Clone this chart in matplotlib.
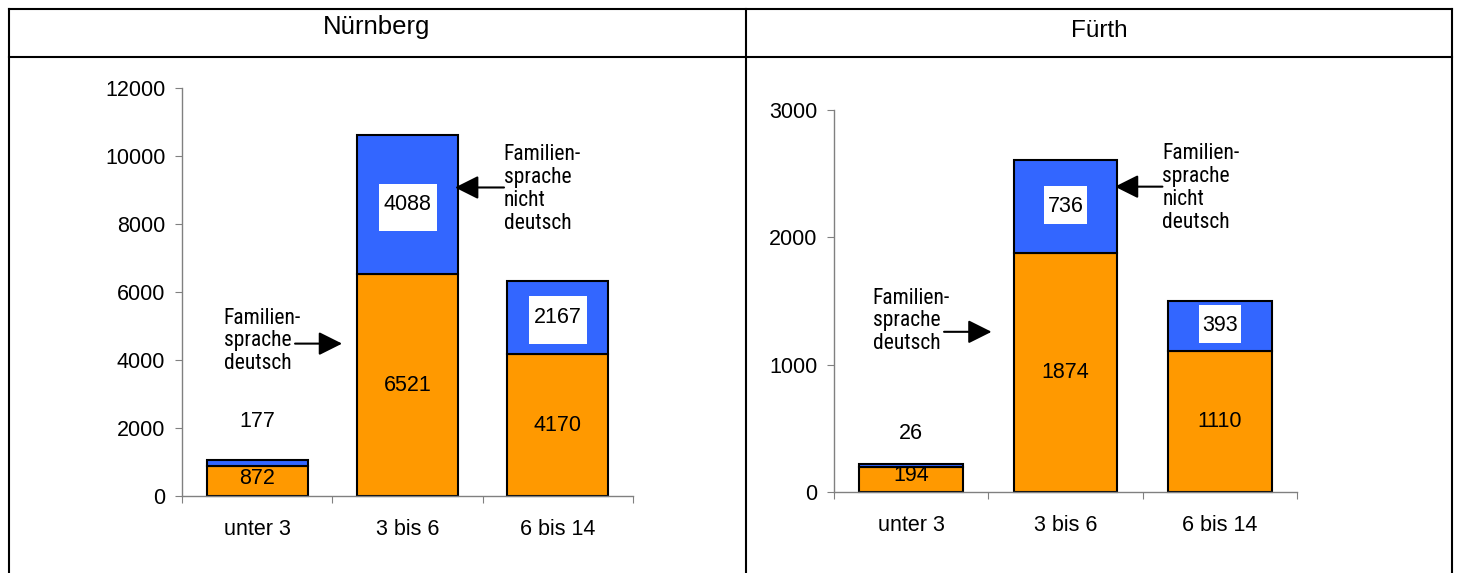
import numpy as np
import matplotlib
matplotlib.use('Agg')
import matplotlib.pyplot as plt
from matplotlib.patches import Rectangle
from matplotlib.lines import Line2D
from matplotlib.transforms import IdentityTransform

# === DATA ===
categories = ['unter 3', '3 bis 6', '6 bis 14']
nbg_deutsch = [872, 6521, 4170]
nbg_nicht_deutsch = [177, 4088, 2167]
fue_deutsch = [194, 1874, 1110]
fue_nicht_deutsch = [26, 736, 393]
nbg_yticks = [0, 2000, 4000, 6000, 8000, 10000, 12000]
fue_yticks = [0, 1000, 2000, 3000]

label_deutsch = 'Familien-\nsprache\ndeutsch'
label_nicht = 'Familien-\nsprache\nnicht\ndeutsch'

# === STYLE ===
ORANGE = '#FF9900'
BLUE = '#3366FF'
GRAY = '#808080'
W, H = 1459, 573
FS = 15.5
NARROW = ['Liberation Sans Narrow', 'Roboto Condensed', 'Liberation Sans']

plt.rcParams['font.family'] = ['Liberation Sans', 'DejaVu Sans']


def fx(px):
    return px / W


def fy(py):
    return 1 - py / H


def draw_panel(ax, deutsch, nicht, yticks, small_offset, left_note, right_note):
    x = np.arange(len(categories))
    ymax = yticks[-1]
    ax.bar(x, deutsch, width=0.67, color=ORANGE, edgecolor='black', linewidth=1.5, clip_on=False)
    ax.bar(x, nicht, bottom=deutsch, width=0.67, color=BLUE, edgecolor='black', linewidth=1.5, clip_on=False)
    ax.set_xlim(-0.5, 2.5)
    ax.set_ylim(0, ymax)

    for s in ['top', 'right']:
        ax.spines[s].set_visible(False)
    for s in ['left', 'bottom']:
        ax.spines[s].set_color(GRAY)
        ax.spines[s].set_linewidth(1)

    ax.set_yticks(yticks)
    ax.tick_params(axis='y', length=5, color=GRAY, pad=7, labelsize=FS)
    ax.set_xticks([-0.5, 0.5, 1.5, 2.5])
    ax.set_xticklabels([])
    ax.tick_params(axis='x', which='major', length=5, color=GRAY)
    ax.set_xticks(x, minor=True)
    ax.set_xticklabels(categories, minor=True)
    ax.tick_params(axis='x', which='minor', length=0, pad=16.5, labelsize=FS)

    boxed = []
    for i in range(len(categories)):
        yc = max(deutsch[i] / 2, 0.042 * ymax)
        ax.text(i, yc, str(deutsch[i]), ha='center', va='center', fontsize=FS, zorder=4)
        if nicht[i] < 0.05 * ymax:
            ax.annotate(str(nicht[i]), xy=(i, deutsch[i] + nicht[i]), xytext=(0, small_offset),
                        textcoords='offset points', ha='center', va='center', fontsize=FS)
        else:
            t = ax.text(i, deutsch[i] + nicht[i] / 2, str(nicht[i]), ha='center', va='center',
                        fontsize=FS, zorder=4)
            boxed.append(t)

    arrow = dict(arrowstyle='-|>,head_length=0.8,head_width=0.4', mutation_scale=18,
                 color='black', lw=1.5, shrinkA=0, shrinkB=0)
    for note, txt in [(left_note, label_deutsch), (right_note, label_nicht)]:
        tx, ty, tail, tip, ay = note
        ax.text(tx, ty, txt, ha='left', va='center', fontsize=15.5, family=NARROW, linespacing=1.12)
        ax.annotate('', xy=(tip, ay), xytext=(tail, ay), arrowprops=arrow)
    return boxed


fig = plt.figure(figsize=(W / 100, H / 100), dpi=100)

# table frame
lw = 1.5
fig.add_artist(Line2D([fx(8.5), fx(1452)], [fy(9), fy(9)], color='black', lw=lw))
fig.add_artist(Line2D([fx(8.5), fx(1452)], [fy(56.7), fy(56.7)], color='black', lw=lw))
for xp in [8.5, 745.5, 1452]:
    fig.add_artist(Line2D([fx(xp), fx(xp)], [fy(9), -0.01], color='black', lw=lw))

fig.text(fx(377), fy(34), 'Nürnberg', ha='center', va='baseline', fontsize=18.5)
fig.text(fx(1099), fy(37), 'Fürth', ha='center', va='baseline', fontsize=17.5)

ax1 = fig.add_axes([fx(182), fy(496), (633 - 182) / W, (496 - 88) / H])
ax2 = fig.add_axes([fx(834), fy(492), (1297 - 834) / W, (492 - 110) / H])

boxes1 = draw_panel(ax1, nbg_deutsch, nbg_nicht_deutsch, nbg_yticks, 28,
                    (-0.223, 4560, 0.252, 0.565, 4482),
                    (1.641, 9038, 1.642, 1.316, 9074))
boxes2 = draw_panel(ax2, fue_deutsch, fue_nicht_deutsch, fue_yticks, 21.6,
                    (-0.25, 1343, 0.213, 0.521, 1258),
                    (1.628, 2388, 1.628, 1.32, 2398))

# white label boxes (Excel style, more room below the number)
fig.canvas.draw()
renderer = fig.canvas.get_renderer()
for ax, boxes, (pl, pr, pt, pb) in [(ax1, boxes1, (4.5, 5.5, 10.5, 16)),
                                    (ax2, boxes2, (3.5, 3.5, 10, 6.5))]:
    for t in boxes:
        bb = t.get_window_extent(renderer)
        r = Rectangle((bb.x0 - pl, bb.y0 - pb), bb.width + pl + pr, bb.height + pt + pb,
                      transform=IdentityTransform(), facecolor='white', edgecolor='none', zorder=3)
        ax.add_patch(r)

fig.savefig('out.png', dpi=100)
